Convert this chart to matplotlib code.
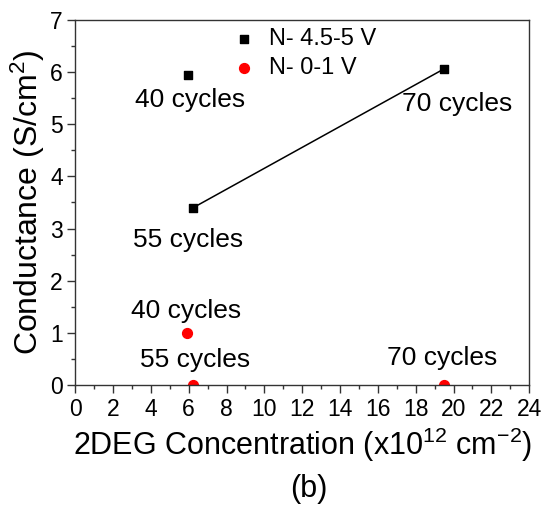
import matplotlib.pyplot as plt
from matplotlib.ticker import MultipleLocator

plt.rcParams['font.family'] = ['Liberation Sans', 'DejaVu Sans']
plt.rcParams['mathtext.fontset'] = 'custom'
plt.rcParams['mathtext.rm'] = 'Liberation Sans'
plt.rcParams['mathtext.default'] = 'regular'
plt.rcParams['axes.unicode_minus'] = False

# data
labels = ['40 cycles', '55 cycles', '70 cycles']
x_high = [5.98, 6.24, 19.5]
y_high = [5.95, 3.40, 6.06]
x_low = [5.93, 6.24, 19.47]
y_low = [1.00, 0.00, 0.00]

# text offsets (pixels) for the cycle labels
off_high = [(2, -25), (-5, -32), (13, -35)]
off_low = [(-1, 22), (2, 25), (-1, 27)]

fig = plt.figure(figsize=(5.45, 5.08), dpi=100)
ax = fig.add_axes([0.138, 0.242, 0.833, 0.719])

ax.plot(x_high[1:], y_high[1:], color='black', lw=1.1, zorder=1)
ax.scatter(x_high, y_high, marker='s', s=36, color='black', label='N- 4.5-5 V', zorder=2)
ax.scatter(x_low, y_low, marker='o', s=50, color='red', label='N- 0-1 V', zorder=2)

for lab, x, y, off in zip(labels, x_high, y_high, off_high):
    ax.annotate(lab, (x, y), xytext=off, textcoords='offset pixels',
                ha='center', va='center', fontsize=19)
for lab, x, y, off in zip(labels, x_low, y_low, off_low):
    ax.annotate(lab, (x, y), xytext=off, textcoords='offset pixels',
                ha='center', va='center', fontsize=19)

ax.set_xlim(0, 24)
ax.set_ylim(0, 7)
ax.xaxis.set_major_locator(MultipleLocator(2))
ax.xaxis.set_minor_locator(MultipleLocator(1))
ax.yaxis.set_major_locator(MultipleLocator(1))
ax.yaxis.set_minor_locator(MultipleLocator(0.5))
ax.tick_params(which='major', direction='out', length=6, width=1, labelsize=16.5, pad=3, color='#333333')
ax.tick_params(which='minor', direction='out', length=3, width=1, color='#333333')
for s in ax.spines.values():
    s.set_linewidth(1)
    s.set_color('#333333')

ax.set_xlabel(r'2DEG Concentration (x10$^{12}$ cm$^{-2}$)', fontsize=22, labelpad=4)
ax.set_ylabel(r'Conductance (S/cm$^2$)', fontsize=23, labelpad=2)

ax.legend(loc='upper left', bbox_to_anchor=(0.286, 1.035), frameon=False, fontsize=17,
          handletextpad=0.3, labelspacing=0.3, handlelength=1.5)

fig.text(0.567, 0.037, '(b)', ha='center', va='center', fontsize=22)

plt.savefig('out.png', dpi=100)
